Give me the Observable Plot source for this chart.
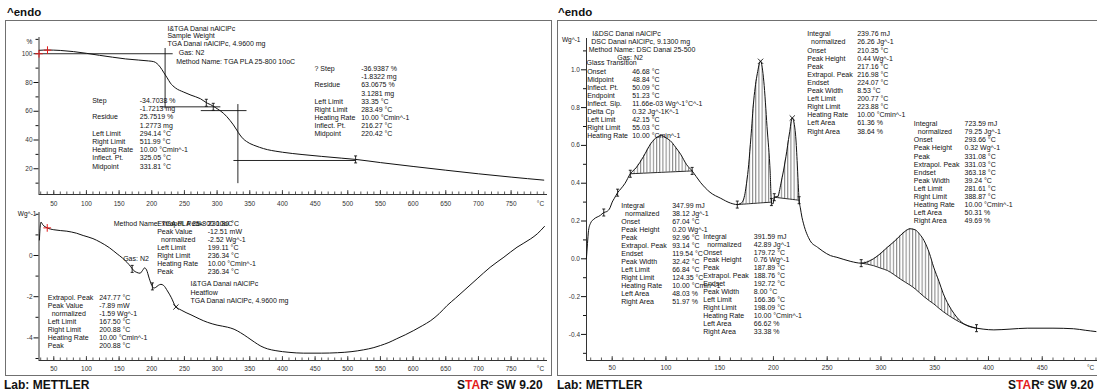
<!DOCTYPE html>
<html><head><meta charset="utf-8">
<script src="https://cdn.jsdelivr.net/npm/d3@7"></script>
<script src="https://cdn.jsdelivr.net/npm/@observablehq/plot@0.6"></script>
<style>
body{margin:0;background:#fff;}
#wrap{position:relative;width:1097px;height:392px;overflow:hidden;font-family:"Liberation Sans",Arial,sans-serif;color:#111;}
#wrap svg{position:absolute;left:0;top:0;overflow:visible;}
.frame{position:absolute;border:1px solid #707070;box-sizing:border-box;}
.endo{position:absolute;top:7px;font-weight:bold;font-size:11.5px;line-height:1;}
.foot{position:absolute;top:379px;font-weight:bold;font-size:12px;line-height:12px;white-space:nowrap;}
.foot .r{color:#e31b1b;}
.foot sup{font-size:8px;vertical-align:4px;line-height:0;}
</style></head><body><div id="wrap">
<div class="frame" style="left:5px;top:20px;width:547px;height:356px"></div>
<div class="frame" style="left:557px;top:20px;width:548px;height:356px"></div>
<div class="endo" style="left:7px">^endo</div>
<div class="endo" style="left:558px">^endo</div>
<div class="foot" style="left:4px">Lab: METTLER</div>
<div class="foot" style="left:557px">Lab: METTLER</div>
<div class="foot" style="left:457px">S<span class="r">TA</span>R<sup>e</sup> SW 9.20</div>
<div class="foot" style="left:1008px">S<span class="r">TA</span>R<sup>e</sup> SW 9.20</div>
</div>
<script>
// ================= DATA =================
// TGA mass curve (left, top): temperature (°C) and mass (%)
const tgaTemp = [28,40,60,80,100,120,140,160,180,195,203,208,213,218,223.5,228.5,236,249,260,274.5,285,290,297,300,310,320,325,330,335,340,345,350,356,365,377,390,400,430,460,490,512,550,600,650,700,750,800];
const tgaMass = [102.4,102.6,102.3,101.5,100.3,98.9,97.6,96.4,95.6,95.0,94.5,93.2,90.7,87.2,83.3,79.6,76.3,73.3,71.2,68.7,65.6,64.6,62.7,61.8,58.5,53.5,50.5,47.0,43.5,40.8,39.0,37.6,36.4,34.9,33.3,32.2,31.5,29.9,28.6,27.4,26.5,24.3,21.6,19.0,16.5,14.2,12.1];
// Step evaluation lines [T1, %1, T2, %2]
const tgaStepLines = [[27.4,100,232,100],[220.42,104,220.42,62],[212,63.07,305,63.07],[275,60.45,345,60.45],[331.81,65,331.81,10],[325,25.75,511.99,25.75]];
const tgaLimitMarks = [[283.49,65.9],[294.14,63.1],[511.99,26.5]];
const tgaRedMarks = [[27.4,100],[40.4,102.5]];

// TGA heat flow (left, bottom): temperature (°C), Wg^-1
const hfTemp = [28,29,30.5,33,40,50,70,85,95,110,121,135,147,155,162,168,172,177,182,186,189,192,196,200,203,206,210,214,218,224,230,236,245,260,285,300,316,326,336,347,357,367,377,390,410,432,460,484,505,524,540,550,563,575,588,601,614,627,640,652,665,678,698,718,739,759,780,790,801];
const hfValue = [0.75,1.3,1.62,1.5,1.34,1.25,1.18,1.08,0.97,0.82,0.65,0.38,0.08,-0.12,-0.33,-0.55,-0.72,-0.82,-0.86,-0.72,-0.6,-0.7,-1.1,-1.45,-1.58,-1.55,-1.45,-1.40,-1.45,-1.72,-2.05,-2.45,-2.65,-2.88,-3.24,-3.38,-3.48,-3.58,-3.75,-3.98,-4.2,-4.4,-4.53,-4.62,-4.70,-4.74,-4.74,-4.72,-4.67,-4.58,-4.47,-4.37,-4.22,-4.04,-3.85,-3.64,-3.41,-3.16,-2.82,-2.43,-2.07,-1.70,-1.13,-0.57,-0.08,0.40,0.81,1.05,1.41];
const hfLimitMarks = [[170,-0.65],[201,-1.5]];
const hfPeakMarks = [[237,-2.5]];
const hfRedMarks = [[40,1.34]];

// DSC curve (right): temperature (°C), Wg^-1
const dscTemp = [26,27,28,30,33,39,42.15,45,48,50,52,55.03,58,62,66.84,72,79,86,92,96,100,104,109,114,119,124.35,132,141,151,160,166.36,170,172,175,177,179,181.7,185,188,191,194,197,198.09,199.5,200.77,204,207,211.6,214.8,217.5,220.5,222,223,223.88,225,226.5,228,234,241,246,253,259,272,281.61,293,300,306,312,318,323,327,332,336,340,345,349,354,358,363,368,373,377,382,388.87,395,405,420,436,460,479,490,500];
const dscValue = [0.0,0.08,0.15,0.19,0.21,0.23,0.245,0.25,0.27,0.30,0.32,0.35,0.37,0.40,0.45,0.48,0.54,0.61,0.645,0.652,0.64,0.625,0.59,0.55,0.50,0.465,0.405,0.352,0.32,0.295,0.287,0.295,0.31,0.40,0.50,0.64,0.84,0.98,1.045,0.94,0.70,0.45,0.30,0.29,0.326,0.33,0.40,0.54,0.66,0.745,0.66,0.52,0.40,0.31,0.27,0.22,0.185,0.097,0.061,0.04,0.017,0.008,-0.014,-0.023,0.0,0.03,0.061,0.09,0.123,0.148,0.159,0.153,0.13,0.097,0.03,-0.044,-0.12,-0.185,-0.245,-0.29,-0.325,-0.344,-0.358,-0.367,-0.372,-0.376,-0.372,-0.367,-0.367,-0.37,-0.378,-0.385];
// integration limits of the straight-baseline peaks, and the curved baseline of the last peak
const peakLimits = [[66.84,124.35],[166.36,198.09],[200.77,223.88]];
const peak4Limits = [281.61,388.87];
const peak4Base = [-0.023,-0.036,-0.05,-0.062,-0.083,-0.107,-0.125,-0.139,-0.16,-0.18,-0.20,-0.222,-0.238,-0.262,-0.28,-0.3,-0.318,-0.334,-0.345,-0.356,-0.367];
const dscPeakTops = [[188,1.045],[217.5,0.745]];
const dscLimitMarks = [[42.15,0.245],[55.03,0.35]];

// Tick values
const xMajorLeft = [50,100,150,200,250,300,350,400,450,500,550,600,650,700,750];
const xMinorLeft = d3.range(30,806,10);
const xMajorRight = [50,100,150,200,250,300,350,400,450];
const xMinorRight = d3.range(30,501,10);
const yMajorTga = [20,40,60,80,100];
const yMinorTga = [10,30,50,70,90,110];
const yMajorHf = [0,-2,-4];
const yMinorHf = [2,1,-1,-3,-5];
const yMajorDsc = [-0.4,-0.2,0,0.2,0.4,0.6,0.8,1.0];
const yMinorDsc = [-0.5,-0.3,-0.1,0.1,0.3,0.5,0.7,0.9,1.1];

// Annotation texts
const peakRows = ["Integral","\u00a0\u00a0normalized","Onset","Peak Height","Peak","Extrapol. Peak","Endset","Peak Width","Left Limit","Right Limit","Heating Rate","Left Area","Right Area"];
const peak1Vals = ["347.99 mJ","38.12 Jg^-1","67.04 °C","0.20 Wg^-1","92.96 °C","93.14 °C","119.54 °C","32.42 °C","66.84 °C","124.35 °C","10.00 °Cmin^-1","48.03 %","51.97 %"];
const peak2Vals = ["391.59 mJ","42.89 Jg^-1","179.72 °C","0.76 Wg^-1","187.89 °C","188.76 °C","192.72 °C","8.00 °C","166.36 °C","198.09 °C","10.00 °Cmin^-1","66.62 %","33.38 %"];
const peak3Vals = ["239.76 mJ","26.26 Jg^-1","210.35 °C","0.44 Wg^-1","217.16 °C","216.98 °C","224.07 °C","8.53 °C","200.77 °C","223.88 °C","10.00 °Cmin^-1","61.36 %","38.64 %"];
const peak4Vals = ["723.59 mJ","79.25 Jg^-1","293.66 °C","0.32 Wg^-1","331.08 °C","331.03 °C","363.18 °C","39.24 °C","281.61 °C","388.87 °C","10.00 °Cmin^-1","50.31 %","49.69 %"];
const glassRows = ["Onset","Midpoint","Inflect. Pt.","Endpoint","Inflect. Slp.","Delta Cp","Left Limit","Right Limit","Heating Rate"];
const glassVals = ["46.68 °C","48.84 °C","50.09 °C","51.23 °C","11.66e-03 Wg^-1°C^-1","0.32 Jg^-1K^-1","42.15 °C","55.03 °C","10.00 °Cmin^-1"];
const stepRows = ["Step","","Residue","","Left Limit","Right Limit","Heating Rate","Inflect. Pt.","Midpoint"];
const step2Rows = ["? Step","","Residue","","Left Limit","Right Limit","Heating Rate","Inflect. Pt.","Midpoint"];
const step1Vals = ["-36.9387 %","-1.8322 mg","63.0675 %","3.1281 mg","33.35 °C","283.49 °C","10.00 °Cmin^-1","216.27 °C","220.42 °C"];
const step2Vals = ["-34.7038 %","-1.7213 mg","25.7519 %","1.2773 mg","294.14 °C","511.99 °C","10.00 °Cmin^-1","325.05 °C","331.81 °C"];
const hfPeakRows = ["Extrapol. Peak","Peak Value","\u00a0\u00a0normalized","Left Limit","Right Limit","Heating Rate","Peak"];
const hfPeakAVals = ["230.80 °C","-12.51 mW","-2.52 Wg^-1","199.11 °C","236.34 °C","10.00 °Cmin^-1","236.34 °C"];
const hfPeakBVals = ["247.77 °C","-7.89 mW","-1.59 Wg^-1","167.50 °C","200.88 °C","10.00 °Cmin^-1","200.88 °C"];
const tgaHeader = ["I&TGA Danai nAlClPc","Sample Weight","TGA Danai nAlClPc, 4.9600 mg"];
const hfHeader = ["I&TGA Danai nAlClPc","Heatflow","TGA Danai nAlClPc, 4.9600 mg"];
const tgaMethod = "Method Name: TGA PLA 25-800 10oC";
const dscHeader = ["I&DSC Danai nAlClPc","DSC Danai nAlClPc, 9.1300 mg","Method Name: DSC Danai 25-500"];

// ================= DRAWING =================
const W = 1097, H = 392;
const FONT = "'Liberation Sans', Arial, sans-serif";
const INK = "#111";
const style = {fontFamily: FONT, fontSize: "7px", color: INK, background: "transparent", overflow: "visible"};
const idx = a => a.map((_, i) => i);

function block(x, y, lines, lh, anchor = "start") {
  return Plot.text([lines.join("\n")], {x: [x], y: [y], text: d => d, textAnchor: anchor, lineAnchor: "top", lineHeight: lh / 7, fontSize: 7, fill: INK});
}
function label(x, y, t, anchor = "start", size = 7) {
  return Plot.text([t], {x: [x], y: [y], text: d => d, textAnchor: anchor, lineAnchor: "middle", fontSize: size, fill: INK});
}
const ibeam = {draw(ctx) { ctx.moveTo(0,-3.5); ctx.lineTo(0,3.5); ctx.moveTo(-1.5,-3.5); ctx.lineTo(1.5,-3.5); ctx.moveTo(-1.5,3.5); ctx.lineTo(1.5,3.5); }};
const pts = () => ({x: d => d[0], y: d => d[1]});

function axes(o) {
  const ph = o.bottom - o.top;
  return [
    Plot.ruleX(o.xMinor, {stroke: "#333", strokeWidth: 0.8, insetTop: ph - 2.5}),
    Plot.ruleX(o.xMajor, {stroke: "#333", strokeWidth: 0.8, insetTop: ph - 4}),
    Plot.axisX({ticks: o.xMajor, tickSize: 0, tickPadding: o.pad, fontSize: 6.5, tickFormat: d => String(d), label: null, fill: "#333"}),
    Plot.axisX({ticks: [o.unitT], tickSize: 0, tickPadding: o.pad, fontSize: 6.5, tickFormat: () => "°C", label: null, fill: "#333"}),
    Plot.axisY({ticks: o.yMajor, tickSize: 5, tickPadding: 1.5, fontSize: 6.5, tickFormat: o.yFmt, label: null, fill: "#333"}),
    Plot.axisY({ticks: o.yMinor, tickSize: 3, tickFormat: () => "", label: null}),
    Plot.ruleX([o.xDom[0]], {stroke: "#333"}),
    Plot.ruleY([o.yDom[0]], {stroke: "#333"})
  ];
}

const wrap = document.getElementById("wrap");

// ---- left top: TGA ----
const ltO = {top: 37, bottom: 194, xDom: [27.4, 805.7], yDom: [2.1, 111.3], xMajor: xMajorLeft, xMinor: xMinorLeft, unitT: 795, pad: 6.5, yMajor: yMajorTga, yMinor: yMinorTga, yFmt: d => String(d)};
const lt = Plot.plot({
  width: W, height: H, marginLeft: 38.5, marginRight: W - 547, marginTop: ltO.top, marginBottom: H - ltO.bottom,
  x: {domain: ltO.xDom}, y: {domain: ltO.yDom}, style,
  marks: [
    ...axes(ltO),
    Plot.link(tgaStepLines, {x1: d => d[0], y1: d => d[1], x2: d => d[2], y2: d => d[3], stroke: INK, strokeWidth: 0.9}),
    Plot.line(idx(tgaTemp), {x: i => tgaTemp[i], y: i => tgaMass[i], stroke: INK, strokeWidth: 1, curve: "monotone-x"}),
    Plot.dot(tgaLimitMarks, {...pts(), symbol: ibeam, stroke: INK, fill: "none", strokeWidth: 0.9}),
    Plot.dot(tgaRedMarks, {...pts(), symbol: "plus", r: 2.6, stroke: "#e31b1b", strokeWidth: 1}),
    label(12.8, 108, "%", "middle", 6.5),
    block(224, 120.0, tgaHeader, 7.8),
    label(241.3, 100.7, "Gas: N2"),
    label(237.3, 94.2, tgaMethod),
    block(108.8, 69.74, stepRows, 8.2),
    block(181.6, 69.74, step2Vals, 8.2),
    block(449, 91.8, step2Rows, 8.1),
    block(520.5, 91.8, step1Vals, 8.1)
  ]
});
wrap.appendChild(lt);

// ---- left bottom: heat flow ----
const lbO = {top: 212, bottom: 360, xDom: [27.4, 805.7], yDom: [-5.097, 2.087], xMajor: xMajorLeft, xMinor: xMinorLeft, unitT: 795, pad: 5.5, yMajor: yMajorHf, yMinor: yMinorHf, yFmt: d => String(d)};
const lb = Plot.plot({
  width: W, height: H, marginLeft: 38.5, marginRight: W - 547, marginTop: lbO.top, marginBottom: H - lbO.bottom,
  x: {domain: lbO.xDom}, y: {domain: lbO.yDom}, style,
  marks: [
    ...axes(lbO),
    Plot.line(idx(hfTemp), {x: i => hfTemp[i], y: i => hfValue[i], stroke: INK, strokeWidth: 1, curve: "monotone-x"}),
    Plot.dot(hfLimitMarks, {...pts(), symbol: ibeam, stroke: INK, fill: "none", strokeWidth: 0.9}),
    Plot.dot(hfPeakMarks, {...pts(), symbol: "times", r: 2.5, stroke: INK, strokeWidth: 0.9}),
    Plot.dot(hfRedMarks, {...pts(), symbol: "plus", r: 2.6, stroke: "#e31b1b", strokeWidth: 1}),
    label(23.5, 2.04, "Wg^-1", "end", 6.5),
    label(141.8, 1.54, tgaMethod),
    block(208.3, 1.694, hfPeakRows, 7.9),
    block(285.7, 1.694, hfPeakAVals, 7.9),
    label(156.2, -0.16, "Gas: N2"),
    block(259.2, -1.218, hfHeader, 8.3),
    block(40.8, -1.898, hfPeakRows, 7.9),
    block(119.5, -1.898, hfPeakBVals, 7.9)
  ]
});
wrap.appendChild(lb);

// ---- right: DSC ----
const dscPts = idx(dscTemp).map(i => ({T: dscTemp[i], v: dscValue[i]}));
const straightPeaks = peakLimits.map(([a, b]) => {
  const seg = dscPts.filter(d => d.T >= a && d.T <= b);
  const v0 = seg[0].v, v1 = seg[seg.length - 1].v;
  return seg.map(d => ({T: d.T, v: d.v, b: v0 + (v1 - v0) * (d.T - a) / (b - a)}));
});
const peak4 = dscPts.filter(d => d.T >= peak4Limits[0] && d.T <= peak4Limits[1]).map((d, i) => ({T: d.T, v: d.v, b: peak4Base[i]}));
const allPeaks = [...straightPeaks, peak4];
const limitPts = allPeaks.flatMap(p => [p[0], p[p.length - 1]]);

const rO = {top: 38, bottom: 360, xDom: [26.1, 501.4], yDom: [-0.538, 1.1656], xMajor: xMajorRight, xMinor: xMinorRight, unitT: 495, pad: 4.5, yMajor: yMajorDsc, yMinor: yMinorDsc, yFmt: d => d.toFixed(1)};
const r = Plot.plot({
  width: W, height: H, marginLeft: 586, marginRight: 0, marginTop: rO.top, marginBottom: H - rO.bottom,
  x: {domain: rO.xDom}, y: {domain: rO.yDom}, style,
  marks: [
    ...axes(rO),
    ...allPeaks.map(p => Plot.areaY(p, {x: "T", y1: "b", y2: "v", fill: "url(#hatch)", curve: "monotone-x"})),
    ...allPeaks.map(p => Plot.line(p, {x: "T", y: "b", stroke: INK, strokeWidth: 0.9, curve: "monotone-x"})),
    Plot.line(dscPts, {x: "T", y: "v", stroke: INK, strokeWidth: 1, curve: "monotone-x"}),
    Plot.dot(limitPts, {x: "T", y: "v", symbol: ibeam, stroke: INK, fill: "none", strokeWidth: 0.9}),
    Plot.dot(dscLimitMarks, {...pts(), symbol: ibeam, stroke: INK, fill: "none", strokeWidth: 0.9}),
    Plot.dot(dscPeakTops, {...pts(), symbol: "times", r: 2.5, stroke: INK, strokeWidth: 0.9}),
    label(20.5, 1.16, "Wg^-1", "end", 6.5),
    label(31.4, 1.19, dscHeader[0]),
    label(30.5, 1.146, dscHeader[1]),
    label(28.2, 1.106, dscHeader[2]),
    label(54.7, 1.063, "Gas: N2"),
    label(26.1, 1.035, "Glass Transition"),
    block(26.7, 1.0095, glassRows, 8.05),
    block(68.6, 1.0095, glassVals, 8.05),
    block(231.4, 1.2074, peakRows, 8.1),
    block(277.9, 1.2074, peak3Vals, 8.1),
    block(330.6, 0.7312, peakRows, 8.06),
    block(377.7, 0.7312, peak4Vals, 8.06),
    block(58.4, 0.2989, peakRows, 8),
    block(105.8, 0.2989, peak1Vals, 8),
    block(134.7, 0.1365, peakRows, 7.95),
    block(181.7, 0.1365, peak2Vals, 7.95)
  ]
});
const pat = d3.select(r).insert("defs", ":first-child").append("pattern")
  .attr("id", "hatch").attr("patternUnits", "userSpaceOnUse").attr("width", 3.2).attr("height", 10);
pat.append("line").attr("x1", 0.6).attr("x2", 0.6).attr("y1", 0).attr("y2", 10).attr("stroke", "#333").attr("stroke-width", 0.7);
wrap.appendChild(r);
</script></body></html>
